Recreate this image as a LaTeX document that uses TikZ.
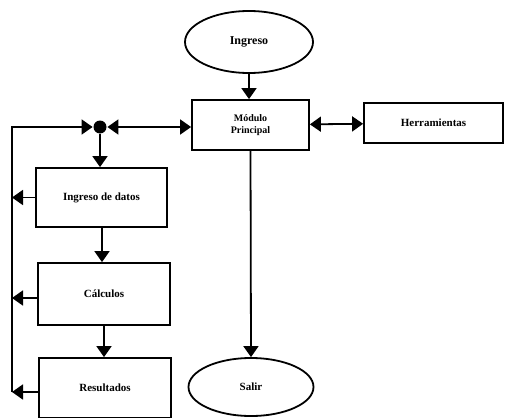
\documentclass[tikz,border=0pt]{standalone}
\usepackage{fontspec}
\setmainfont{Liberation Serif}
\usetikzlibrary{arrows.meta,shapes.geometric}
\begin{document}
\begin{tikzpicture}[x=1pt,y=-1pt,
  line width=1.8pt,
  arr/.style={-{Triangle[length=11pt,width=15pt]}},
  darr/.style={{Triangle[length=11pt,width=15pt]}-{Triangle[length=11pt,width=15pt]}},
  box/.style={draw,rectangle,inner sep=0pt,font=\fontsize{11}{12}\selectfont\bfseries},
  oval/.style={draw,ellipse,inner sep=0pt,font=\fontsize{12}{13}\selectfont\bfseries},
  dot/.style={circle,fill,inner sep=0pt,minimum size=13pt}]
\useasboundingbox (0,0) rectangle (505,417);
\node[oval,minimum width=128pt,minimum height=62pt] (ing) at (249,42) {Ingreso};
\node[box,minimum width=117pt,minimum height=50pt,align=center,font=\fontsize{10}{12}\selectfont\bfseries] (mod) at (250.5,125) {Módulo\\Principal};
\node[box,minimum width=139pt,minimum height=40pt] (her) at (433.5,123) {Herramientas};
\node[oval,minimum width=125pt,minimum height=58pt,font=\fontsize{11}{12}\selectfont\bfseries] (sal) at (251,387) {Salir};
\node[dot] (j) at (100,127) {};
\node[box,minimum width=131pt,minimum height=59pt] (dat) at (101.5,197.5) {Ingreso de datos};
\node[box,minimum width=132pt,minimum height=62pt] (cal) at (104,294) {Cálculos};
\node[box,minimum width=132pt,minimum height=60pt] (res) at (105,388) {Resultados};
\coordinate (tl) at (12,127);
\coordinate (bl) at (12,392);
\draw[arr] (ing) -- (mod.north -| ing);
\draw[darr] (mod) -- (her);
\draw[arr] (mod.south) -- (sal.north);
\draw[darr] (j) -- (mod.west |- j);
\draw[arr] (bl) -- (tl) -- (j);
\draw[arr] (j) -- (dat.north -| j);
\draw[arr] (dat.south -| 102,0) -- (cal.north -| 102,0);
\draw[arr] (cal.south -| 104,0) -- (res.north -| 104,0);
\draw[arr] (dat.west) -- (dat.west -| tl);
\draw[arr] (cal.west |- 0,298) -- (12,298);
\draw[arr] (res.west |- bl) -- (bl);
\end{tikzpicture}
\end{document}
